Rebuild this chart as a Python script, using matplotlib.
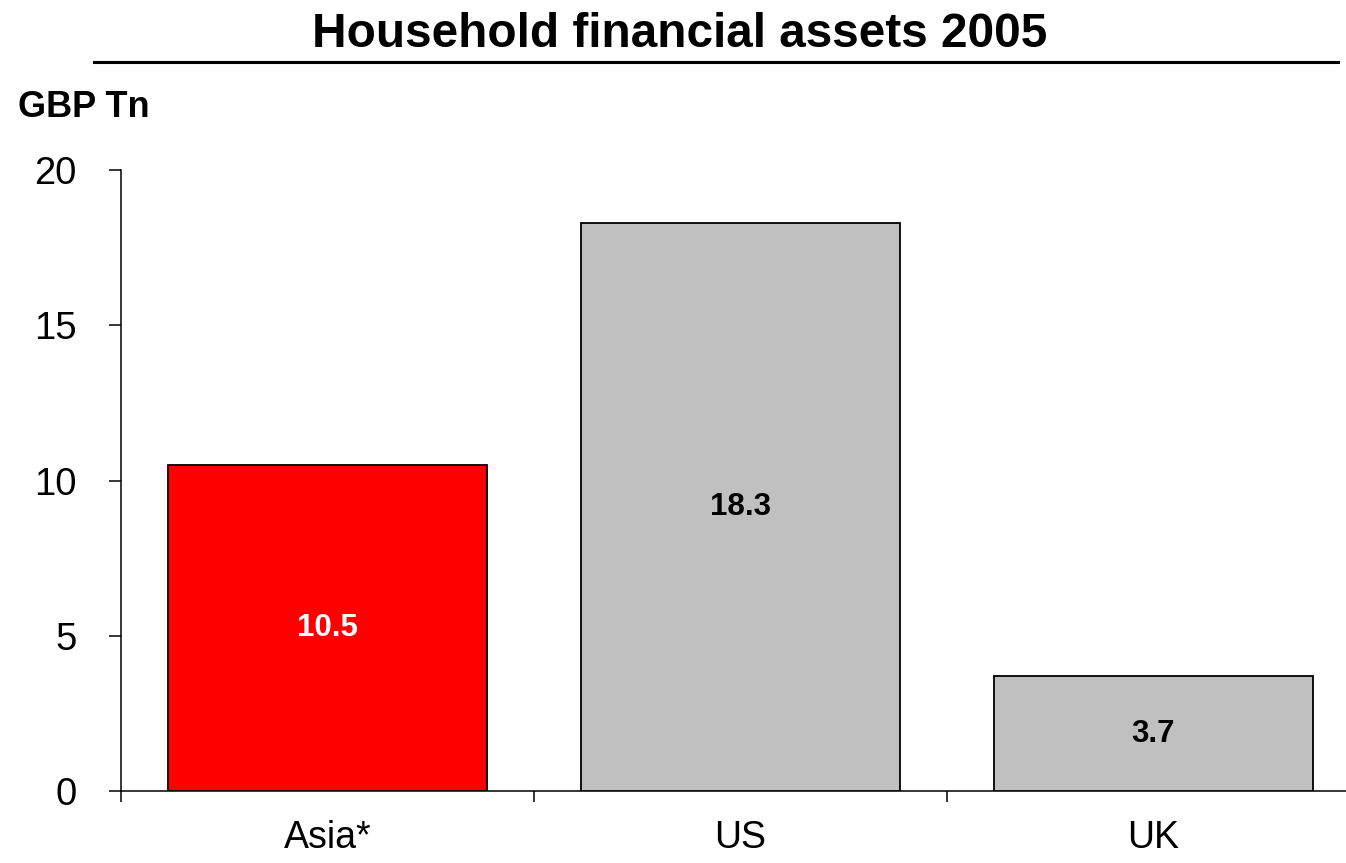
import matplotlib
matplotlib.use("Agg")
import matplotlib.pyplot as plt
from matplotlib.lines import Line2D
import numpy as np

plt.rcParams['font.family'] = ['Liberation Sans', 'DejaVu Sans']

categories = ["Asia*", "US", "UK"]
values = [10.5, 18.3, 3.7]
bar_colors = ["#FF0000", "#C0C0C0", "#C0C0C0"]
label_colors = ["white", "black", "black"]
yticks = [0, 5, 10, 15, 20]
title = "Household financial assets 2005"
unit = "GBP Tn"

W, H = 1346, 863
fig = plt.figure(figsize=(W / 100, H / 100), dpi=100)
left = 121 / W
bottom = (H - 791) / H
top = (H - 170) / H
width = (1360 - 121) / W
ax = fig.add_axes([left, bottom, width, top - bottom])

x = np.arange(len(categories))
bars = ax.bar(x, values, width=0.77, color=bar_colors, edgecolor="black", linewidth=1.3, zorder=3)
for xi, v, c in zip(x, values, label_colors):
    ax.text(xi, v / 2, f"{v:.1f}", ha="center", va="center", fontsize=22.5,
            fontweight="bold", color=c, zorder=4)

ax.set_xlim(-0.5, len(categories) - 0.5)
ax.set_ylim(0, 20)
ax.set_yticks(yticks)
ax.set_yticklabels([str(t) for t in yticks])
ax.set_xticks(x)
ax.set_xticklabels(categories)
ax.set_xticks(np.arange(len(categories)) - 0.5, minor=True)

ax.tick_params(axis="y", direction="out", length=9, width=1.1, pad=23, labelsize=27.5)
ax.tick_params(axis="x", which="major", length=0, pad=21, labelsize=27)
ax.tick_params(axis="x", which="minor", direction="out", length=8, width=1.1)

for s in ["top", "right"]:
    ax.spines[s].set_visible(False)
for s in ["left", "bottom"]:
    ax.spines[s].set_linewidth(1.1)

fig.text(680 / W, 1 - 47 / H, title, ha="center", va="baseline", fontsize=34.4, fontweight="bold")
fig.add_artist(Line2D([94 / W, 1338 / W], [1 - 62 / H, 1 - 62 / H], color="black", linewidth=2.2,
                      transform=fig.transFigure))
fig.text(18 / W, 1 - 117 / H, unit, ha="left", va="baseline", fontsize=26, fontweight="bold")

fig.savefig("out.png", dpi=100)
